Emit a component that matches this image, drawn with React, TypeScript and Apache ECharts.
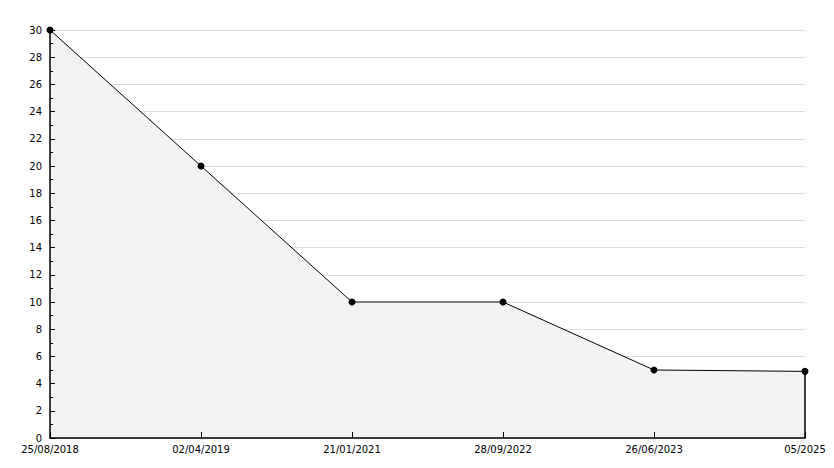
import React, { useEffect, useRef } from "react";
import * as echarts from "echarts";

const categories = ["25/08/2018", "02/04/2019", "21/01/2021", "28/09/2022", "26/06/2023", "05/2025"];
const values = [30, 20, 10, 10, 5, 4.9];

export default function App() {
  const ref = useRef<HTMLDivElement>(null);
  useEffect(() => {
    const chart = echarts.init(ref.current!, null, { renderer: "svg" });
    const last = categories.length - 1;
    const labelStyle = { color: "#000", fontSize: 10, fontFamily: "DejaVu Sans" };
    chart.setOption({
      animation: false,
      grid: { left: 50, right: 29, top: 30, bottom: 30 },
      xAxis: {
        type: "category",
        data: categories,
        boundaryGap: false,
        z: 5,
        axisLine: { lineStyle: { color: "#000", width: 1.5 } },
        axisTick: { inside: true, length: 6, lineStyle: { color: "#000" } },
        axisLabel: { ...labelStyle, margin: 6 },
        splitLine: { show: false },
      },
      yAxis: [
        {
          type: "value",
          min: 0,
          max: 30,
          interval: 2,
          z: 0,
          axisLine: { show: false },
          axisTick: { show: false },
          axisLabel: { show: false },
          splitLine: { show: true, lineStyle: { color: "#dddddd", width: 1 } },
        },
        {
          type: "value",
          min: 0,
          max: 30,
          interval: 2,
          position: "left",
          z: 5,
          axisLine: { show: true, lineStyle: { color: "#000", width: 1.5 } },
          axisTick: { show: true, inside: true, length: 5, lineStyle: { color: "#000" } },
          minorTick: { show: true, splitNumber: 2, length: 3, lineStyle: { color: "#000" } },
          axisLabel: { ...labelStyle, margin: 8 },
          splitLine: { show: false },
        },
      ],
      series: [
        {
          type: "line",
          yAxisIndex: 0,
          data: values,
          symbol: "circle",
          symbolSize: 7,
          itemStyle: { color: "#000" },
          lineStyle: { color: "#000", width: 1 },
          areaStyle: { color: "#f2f2f2", opacity: 1 },
          markLine: {
            silent: true,
            symbol: "none",
            label: { show: false },
            lineStyle: { color: "#000", width: 1.5, type: "solid" },
            data: [[{ coord: [last, values[last]] }, { coord: [last, 0] }]],
          },
        },
      ],
    });
    return () => chart.dispose();
  }, []);
  return <div ref={ref} style={{ width: 834, height: 468, position: "absolute", left: 0, top: 0 }} />;
}
